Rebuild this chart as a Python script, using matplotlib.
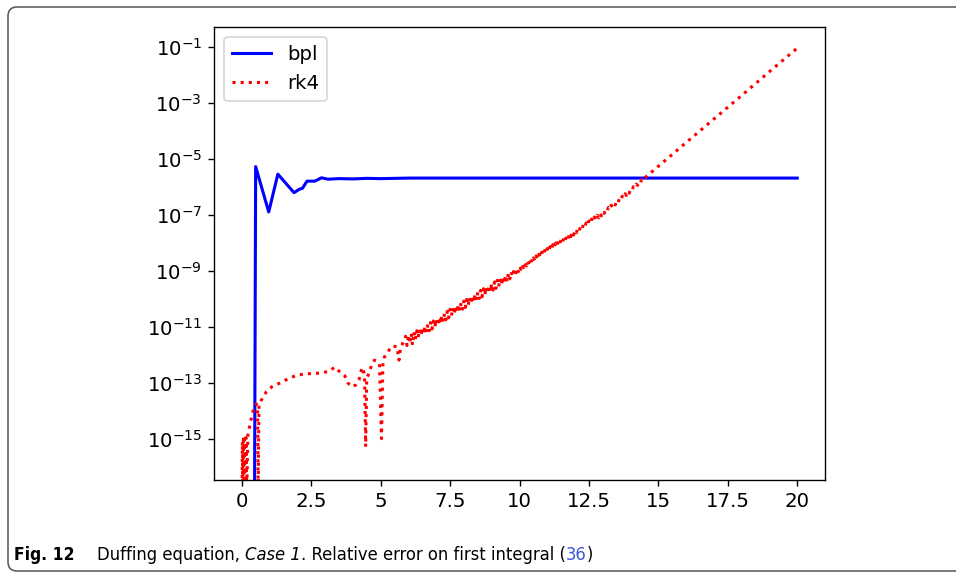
#!/usr/bin/env python3
import numpy as np
import matplotlib
matplotlib.use("Agg")
import matplotlib.pyplot as plt
from matplotlib import font_manager
from matplotlib.path import Path
from matplotlib.patches import PathPatch
from matplotlib.ticker import FuncFormatter, NullLocator

# Values as log10 of the relative error.
# -20 stands for "below the axis" (error exactly zero / far off-scale).
bpl_t = [0.0, 0.45, 0.5, 0.97, 1.3, 1.88, 2.09, 2.18, 2.35, 2.63, 2.87, 3.1,
         3.5, 4.0, 4.5, 5.0, 6.0, 8.0, 10.0, 14.0, 20.0]
bpl_log_err = [-20, -20, -5.27, -6.89, -5.54, -6.2, -6.07, -6.05, -5.79, -5.79,
               -5.67, -5.72, -5.70, -5.71, -5.69, -5.70, -5.68, -5.68, -5.68,
               -5.68, -5.68]

# rk4, start of the run (noise, plateau and the two dips)
rk4_start_t = [0.0, 0.02, 0.04, 0.06, 0.08, 0.10, 0.12, 0.15, 0.18, 0.22,
               0.30, 0.38, 0.45, 0.52, 0.57, 0.59, 0.62, 0.71, 0.89, 1.1,
               1.37, 1.6, 1.97, 2.3, 2.69, 2.93, 3.17, 3.35, 3.53, 3.71,
               3.82, 3.95, 4.1, 4.22, 4.27, 4.34, 4.42, 4.46, 4.5, 4.6,
               4.67, 4.78, 4.96, 5.03, 5.08, 5.14, 5.27, 5.39, 5.59, 5.66,
               5.72, 5.83]
rk4_start_err = [-20, -15.1, -16.8, -14.9, -16.9, -15.0, -17.0, -14.95, -16.8, -14.85,
                 -14.45, -14.1, -13.85, -13.75, -13.8, -17.0, -13.75, -13.6, -13.3, -13.12,
                 -13.0, -12.88, -12.72, -12.67, -12.65, -12.63, -12.56, -12.43, -12.6, -12.74,
                 -12.99, -13.13, -13.07, -12.89, -12.65, -12.44, -12.69, -15.27, -12.83, -12.6,
                 -12.36, -12.18, -12.32, -14.98, -12.35, -12.06, -11.88, -11.68, -11.7, -12.18,
                 -11.72, -11.52]

# rk4, oscillating band 5.9 .. 14.45: upper edge at t, lower edge at t + 0.05
band_t = np.round(np.arange(5.9, 14.45, 0.1), 2)
rk4_upper = [-11.33, -11.28, -11.23, -11.18, -11.13, -11.08, -11.02, -10.96, -10.9, -10.84,
             -10.78, -10.72, -10.65, -10.58, -10.51, -10.44, -10.37, -10.31, -10.25, -10.19,
             -10.13, -10.07, -10.01, -9.94, -9.88, -9.81, -9.75, -9.69, -9.63, -9.57,
             -9.51, -9.45, -9.39, -9.33, -9.27, -9.21, -9.15, -9.09, -9.03, -8.96,
             -8.9, -8.83, -8.77, -8.71, -8.65, -8.59, -8.53, -8.46, -8.4, -8.33,
             -8.27, -8.2, -8.13, -8.06, -8.0, -7.93, -7.86, -7.79, -7.73, -7.66,
             -7.6, -7.54, -7.47, -7.41, -7.34, -7.28, -7.21, -7.14, -7.07, -7.01,
             -6.94, -6.88, -6.8, -6.73, -6.65, -6.58, -6.5, -6.41, -6.33, -6.24,
             -6.16, -6.08, -5.99, -5.9, -5.82, -5.73]
rk4_lower = [-11.66, -11.59, -11.64, -11.45, -11.38, -11.31, -11.25, -11.19, -11.13, -11.07,
             -11.01, -10.95, -10.88, -10.81, -10.74, -10.67, -10.6, -10.54, -10.48, -10.42,
             -10.36, -10.3, -10.24, -10.17, -10.11, -10.04, -9.98, -9.92, -9.86, -9.8,
             -9.74, -9.68, -9.62, -9.56, -9.5, -9.44, -9.38, -9.28, -9.2, -9.11,
             -9.03, -8.94, -8.88, -8.82, -8.76, -8.7, -8.64, -8.57, -8.51, -8.44,
             -8.38, -8.31, -8.24, -8.17, -8.11, -8.04, -7.97, -7.9, -7.84, -7.77,
             -7.71, -7.63, -7.56, -7.5, -7.43, -7.37, -7.3, -7.23, -7.16, -7.1,
             -7.03, -6.94, -6.86, -6.79, -6.71, -6.64, -6.56, -6.47, -6.39, -6.3,
             -6.22, -6.12, -6.03, -5.94, -5.86, -5.77]

# rk4, smooth growth at the end
rk4_end_t = [14.5, 15.0, 16.0, 17.0, 18.0, 19.0, 20.0]
rk4_end_err = [-5.68, -5.26, -4.41, -3.57, -2.73, -1.88, -1.04]

x_ticks = [0, 2.5, 5, 7.5, 10, 12.5, 15, 17.5, 20]
y_tick_exps = [-15, -13, -11, -9, -7, -5, -3, -1]

# put the band edges in time order (upper, lower, upper, ...)
band_pts = sorted(list(zip(band_t, rk4_upper)) + list(zip(band_t + 0.05, rk4_lower)))
rk4_t = rk4_start_t + [p[0] for p in band_pts] + rk4_end_t
rk4_log_err = rk4_start_err + [p[1] for p in band_pts] + rk4_end_err

W, H, DPI = 956, 575, 123
plt.rcParams['font.size'] = 11.6
plt.rcParams['lines.linewidth'] = 1.8

fig = plt.figure(figsize=(W / DPI, H / DPI), dpi=DPI)
ax = fig.add_axes([214 / W, 1 - 480 / H, 611 / W, 453 / H])

ax.plot(bpl_t, 10.0 ** np.array(bpl_log_err), 'b-', label='bpl')
ax.plot(rk4_t, 10.0 ** np.array(rk4_log_err), 'r:', label='rk4')
ax.set_yscale('log')
ax.set_xlim(-1, 21)
ax.set_ylim(10 ** -16.46, 10 ** -0.286)
ax.set_xticks(x_ticks)
ax.xaxis.set_major_formatter(FuncFormatter(lambda v, p: '%g' % v))
ax.set_yticks([10.0 ** e for e in y_tick_exps])
ax.yaxis.set_minor_locator(NullLocator())
ax.legend(loc='upper left')

# page frame: open on the right, rounded corners on the left
r, left, top, bottom, right = 9, 8, H - 7, 4, W
verts = [(right, top), (left + r, top), (left, top), (left, top - r),
         (left, bottom + r), (left, bottom), (left + r, bottom), (right, bottom)]
codes = [Path.MOVETO, Path.LINETO, Path.CURVE3, Path.CURVE3,
         Path.LINETO, Path.CURVE3, Path.CURVE3, Path.LINETO]
verts = [(vx / W, vy / H) for vx, vy in verts]
fig.patches.append(PathPatch(Path(verts, codes), transform=fig.transFigure,
                             fill=False, edgecolor='#555555', linewidth=0.9))

# caption font: a condensed face if one is installed
cap_kw = dict(family='DejaVu Sans')
names = {(f.name, f.stretch) for f in font_manager.fontManager.ttflist}
if any(n == 'Liberation Sans Narrow' for n, s in names):
    cap_kw = dict(family='Liberation Sans Narrow')
elif any(n == 'DejaVu Sans' and s == 'condensed' for n, s in names):
    cap_kw = dict(family='DejaVu Sans', stretch='condensed')

parts = [
    ("Duffing equation,", dict(), True),
    ("Case 1", dict(style='italic'), False),
    (". Relative error on first integral (", dict(), False),
    ("36", dict(color='#3a55d5'), False),
    (")", dict(), False),
]

fig.canvas.draw()
renderer = fig.canvas.get_renderer()
base_y = 15 / H


def text_w(s, size, **kw):
    t = fig.text(0, 0, s, size=size, **cap_kw, **kw)
    w = t.get_window_extent(renderer).width
    t.remove()
    return w


# fit the caption size to the reference width (text from x=97 to x=596)
trial = 10.0
total = sum(text_w(s, trial, **{k: v for k, v in kw.items() if k != 'color'})
            for s, kw, g in parts) + text_w("a a", trial) - text_w("aa", trial)
cap_size = trial * 499 / total
space_w = text_w("a a", cap_size) - text_w("aa", cap_size)

fig.text(14 / W, base_y, "Fig. 12", size=cap_size * 0.95, weight='bold',
         va='baseline', **cap_kw)
x = 97
for txt, kw, gap_after in parts:
    kw = dict(kw)
    kw.setdefault('color', 'black')
    t = fig.text(x / W, base_y, txt, size=cap_size, va='baseline', **cap_kw, **kw)
    x = t.get_window_extent(renderer).x1 + (space_w if gap_after else 0)

fig.savefig('out.png', dpi=DPI)
